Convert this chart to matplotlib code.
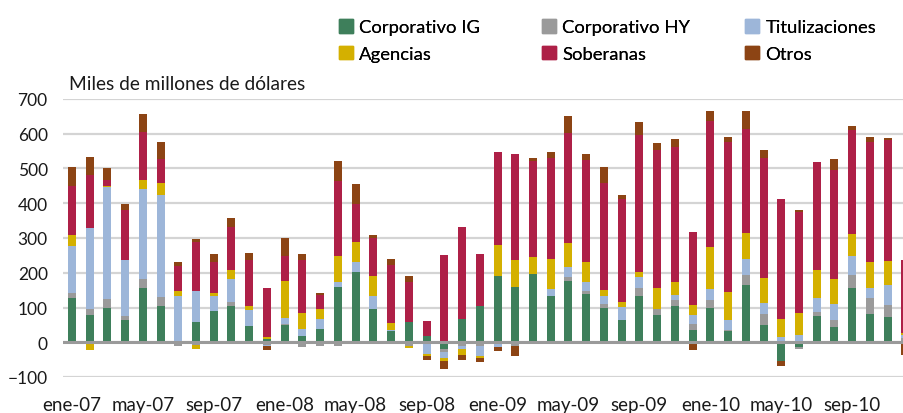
import numpy as np
import matplotlib.pyplot as plt
from matplotlib.patches import Patch

plt.rcParams['font.family'] = ['Lato', 'DejaVu Sans']

meses = ['ene', 'feb', 'mar', 'abr', 'may', 'jun', 'jul', 'ago', 'sep', 'oct', 'nov', 'dic']
fechas = [m + '-' + a for a in ['07', '08', '09', '10'] for m in meses]

# miles de millones de dolares, ene-07 .. dic-10
corp_ig = [128, 79, 99, 64, 156, 105, 0, 58, 90, 105, 47, 10,
           50, 18, 38, 159, 202, 96, 33, 58, 18, -18, 67, 105,
           191, 159, 197, 133, 176, 139, 99, 64, 133, 79, 105, 35,
           99, 33, 165, 50, -54, -13, 76, 44, 156, 81, 73, 5]
corp_hy = [14, 17, 26, 12, 26, 25, -12, -7, 0, 11, 0, -8,
           3, -15, -10, -10, 0, 0, 0, -10, -3, -9, -10, -10,
           -3, -12, 0, 0, 12, 9, 11, 0, 23, 18, 17, 17,
           23, 3, 29, 32, 0, -5, 11, 20, 38, 46, 34, 8]
titulizaciones = [135, 233, 323, 161, 260, 294, 133, 89, 43, 66, 46, -3,
                  17, 20, 29, 15, 29, 37, 3, 0, -32, -17, -8, -29,
                  -12, 0, 0, 20, 29, 26, 23, 38, 32, 0, 14, 26,
                  31, 29, 46, 31, 15, 21, 40, 46, 54, 29, 58, 8]
agencias = [32, -21, 3, 0, 25, 34, 15, -11, 9, 26, 12, 6,
            106, 46, 29, 75, 58, 58, 20, -6, -4, -11, -18, -5,
            89, 78, 48, 87, 69, 58, 18, 14, 14, 59, 38, 28,
            121, 81, 75, 72, 52, 63, 81, 72, 64, 75, 69, 6]
soberanas = [142, 152, 16, 144, 137, 69, 70, 141, 89, 125, 133, 141,
             72, 153, 40, 216, 109, 109, 165, 115, 43, 251, 265, 149,
             267, 305, 277, 290, 316, 293, 308, 296, 394, 396, 388, 210,
             363, 431, 299, 345, 345, 291, 311, 314, 299, 345, 348, 210]
otros = [53, 52, 34, 17, 53, 49, 13, 8, 23, 25, 20, -12,
         52, 17, 6, 58, 57, 9, 20, 17, -11, -23, -14, -14,
         -9, -29, 8, 17, 49, 18, 46, 12, 38, 20, 23, -21,
         28, 15, 51, 23, -14, 6, -5, 31, 11, 15, 6, -36]

series = [('Corporativo IG', corp_ig, '#3e7f5b'),
          ('Corporativo HY', corp_hy, '#9a9a9a'),
          ('Titulizaciones', titulizaciones, '#9db6d9'),
          ('Agencias', agencias, '#d4b000'),
          ('Soberanas', soberanas, '#ae2047'),
          ('Otros', otros, '#8c4414')]

x = np.arange(len(fechas))

fig = plt.figure(figsize=(9.04, 4.14), dpi=100)
ax = fig.add_axes([63/904, 36/414, 1 - 63/904, 278/414])

pos = np.zeros(len(x))
neg = np.zeros(len(x))
for nombre, vals, color in series:
    v = np.array(vals, dtype=float)
    base = np.where(v >= 0, pos, neg)
    ax.bar(x, v, bottom=base, width=0.45, color=color, zorder=3)
    pos += np.where(v >= 0, v, 0)
    neg += np.where(v < 0, v, 0)

ax.set_ylim(-100, 700)
ax.set_yticks(np.arange(-100, 701, 100))
ax.set_xlim(-0.5, 46.92)
ax.set_xticks(x[::4])
ax.set_xticklabels(fechas[::4])
ax.tick_params(axis='both', length=0, labelsize=13.5, colors='#1a1a1a')
ax.tick_params(axis='y', labelsize=12.5, pad=11)
ax.tick_params(axis='x', pad=14)
ax.grid(axis='y', color='#d4d4d4', lw=1.6, zorder=0)
ax.axhline(0, color='#9a9a9a', lw=2.2, zorder=4)
for s in ax.spines.values():
    s.set_visible(False)

fig.text(69/904, 1 - 85/414, 'Miles de millones de dólares', fontsize=13.8,
         va='center', ha='left', color='#1a1a1a')

# leyenda en tres columnas (una leyenda por columna)
colores = {n: c for n, _, c in series}
columnas = [(['Corporativo IG', 'Agencias'], 339),
            (['Corporativo HY', 'Soberanas'], 542),
            (['Titulizaciones', 'Otros'], 745)]
for nombres, x0 in columnas:
    leg = fig.legend([Patch(color=colores[n]) for n in nombres], nombres,
                     loc='upper left', bbox_to_anchor=(x0/904, 1 - 20/414),
                     frameon=False, fontsize=13.3, handlelength=0.75,
                     handleheight=0.75, handletextpad=0.35, labelspacing=0.58,
                     borderpad=0, borderaxespad=0)
    fig.add_artist(leg)

fig.savefig('out.png', dpi=100)
